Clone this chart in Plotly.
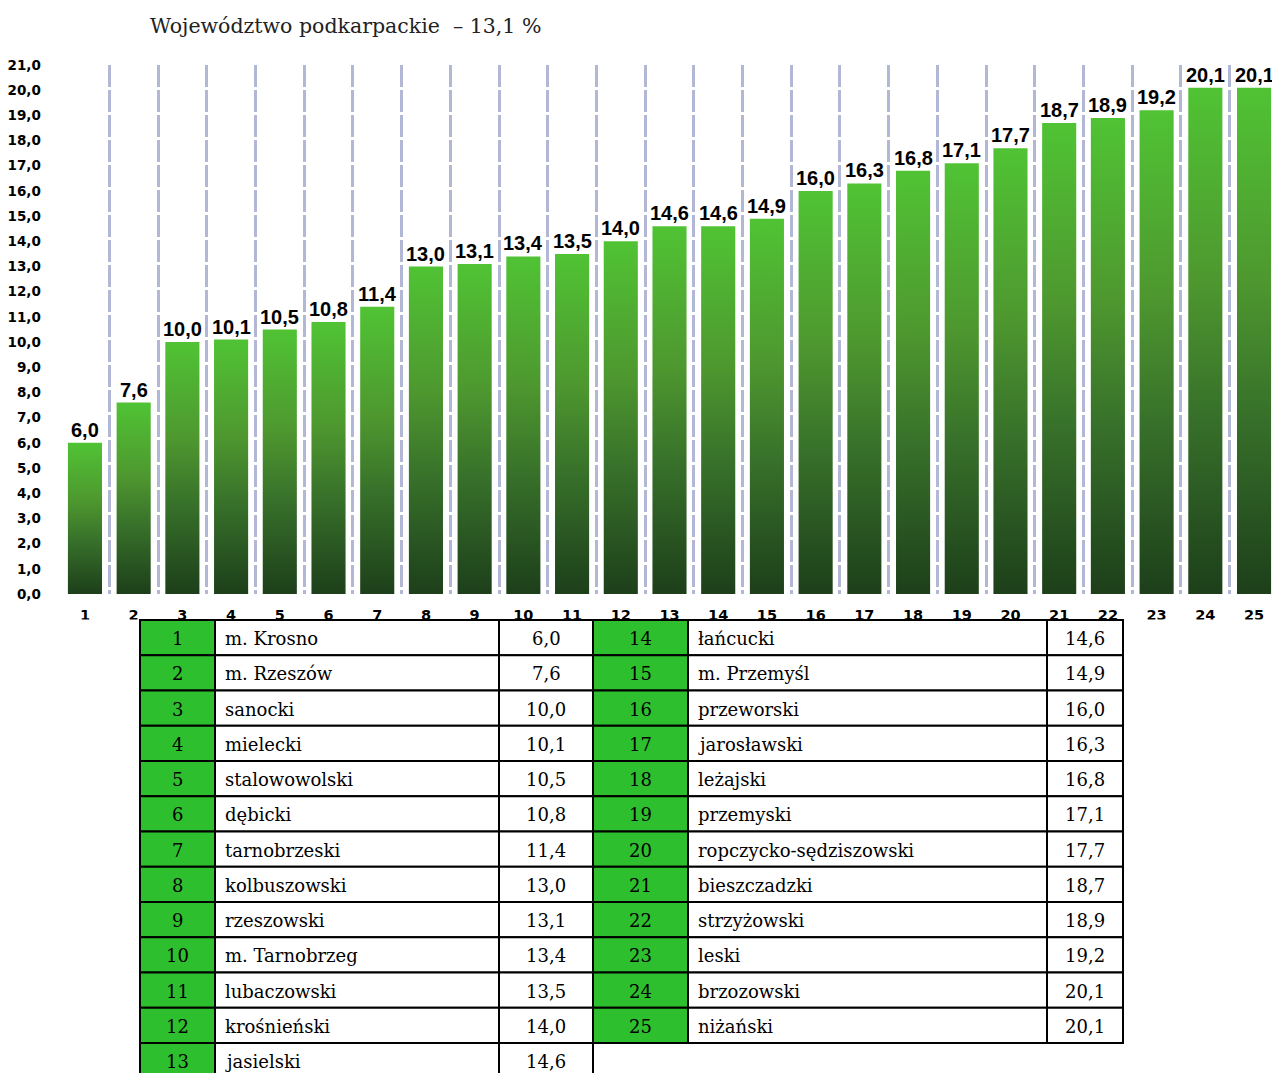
import plotly.graph_objects as go

# ---------------- data ----------------
categories = list(range(1, 26))
x_tick_labels = [str(c) for c in categories]
values = [6.0, 7.6, 10.0, 10.1, 10.5, 10.8, 11.4, 13.0, 13.1, 13.4, 13.5, 14.0, 14.6,
          14.6, 14.9, 16.0, 16.3, 16.8, 17.1, 17.7, 18.7, 18.9, 19.2, 20.1, 20.1]
names = ["m. Krosno", "m. Rzeszów", "sanocki", "mielecki", "stalowowolski", "dębicki",
         "tarnobrzeski", "kolbuszowski", "rzeszowski", "m. Tarnobrzeg", "lubaczowski",
         "krośnieński", "jasielski", "łańcucki", "m. Przemyśl", "przeworski",
         "jarosławski", "leżajski", "przemyski", "ropczycko-sędziszowski",
         "bieszczadzki", "strzyżowski", "leski", "brzozowski", "niżański"]
y_tick_values = list(range(0, 22))
y_tick_labels = [f"{v},0" for v in y_tick_values]
title_text = "Województwo podkarpackie  – 13,1 %"

# ---------------- styles ----------------
W, H = 1272, 1073
# vertical calibration of the photographed page (page y -> 8 + S * y)
TOP = 8.0
S = 1057.0 / 1073.0
grad = [[0, "#1D3F1A"], [0.35, "#37702A"], [0.62, "#4E982F"], [1, "#50C334"]]
GRID = "#B3B7D6"
TABLE_GREEN = "#2EBF2E"
SERIF = "DejaVu Serif"

def fmt(v):
    return f"{v:.1f}".replace(".", ",")

def px(x):
    return x / W

def py(y):
    fy = (y - TOP) / S
    return 1 - fy / H

fig = go.Figure()

bar_w = 0.70
for c, v in zip(categories, values):
    hw = bar_w / 2
    fig.add_trace(go.Scatter(
        x=[c - hw, c + hw, c + hw, c - hw, c - hw],
        y=[0, 0, v, v, 0],
        fill="toself",
        fillgradient=dict(type="vertical", colorscale=grad),
        mode="lines", line=dict(width=0),
        hoverinfo="skip", showlegend=False))

annotations = []
for c, v in zip(categories, values):
    annotations.append(dict(
        x=c, y=v, xref="x", yref="y", text=fmt(v), showarrow=False,
        yanchor="bottom", yshift=0,
        font=dict(family="Liberation Sans", size=20, color="black", weight="bold")))

annotations.append(dict(
    x=px(148), y=py(26), xref="paper", yref="paper", text=title_text,
    showarrow=False, xanchor="left", yanchor="middle",
    font=dict(family=SERIF, size=20.5, color="#222222")))

# ---------------- table (shapes + annotations) ----------------
shapes = []
# white band hiding the lower part of the x tick labels (chart image edge)
shapes.append(dict(type="rect", xref="paper", yref="paper", layer="above",
                   x0=0, x1=1, y0=py(1100), y1=py(619.5),
                   fillcolor="white", line=dict(width=0)))

row_top = 620
row_h = 35.25
col_sets = [[140, 215, 499, 593], [593, 688, 1047, 1123]]
left_n = 13
for idx, (num, name, v) in enumerate(zip(categories, names, values)):
    block = 0 if idx < left_n else 1
    r = idx if block == 0 else idx - left_n
    cols = col_sets[block]
    y0 = row_top + r * row_h
    y1 = y0 + row_h
    fills = [TABLE_GREEN, "white", "white"]
    for k in range(3):
        shapes.append(dict(type="rect", xref="paper", yref="paper", layer="above",
                           x0=px(cols[k]), x1=px(cols[k + 1]), y0=py(y1), y1=py(y0),
                           fillcolor=fills[k], line=dict(color="black", width=2)))
    yc = py((y0 + y1) / 2 + 1)
    tf = dict(family=SERIF, size=18, color="black")
    annotations.append(dict(x=px((cols[0] + cols[1]) / 2), y=yc, xref="paper", yref="paper",
                            text=str(num), showarrow=False, xanchor="center",
                            yanchor="middle", font=tf))
    annotations.append(dict(x=px(cols[1] + 8), y=yc, xref="paper", yref="paper",
                            text=name, showarrow=False, xanchor="left",
                            yanchor="middle", font=tf))
    annotations.append(dict(x=px((cols[2] + cols[3]) / 2), y=yc, xref="paper", yref="paper",
                            text=fmt(v), showarrow=False, xanchor="center",
                            yanchor="middle", font=tf))

x_left_px = 60.6
x_range = [0.5, 1 + (W - 85) / 48.71]

fig.update_layout(
    width=W, height=H,
    margin=dict(l=0, r=0, t=0, b=0),
    paper_bgcolor="white", plot_bgcolor="white",
    showlegend=False,
    shapes=shapes, annotations=annotations,
    xaxis=dict(
        domain=[px(x_left_px), 1], range=x_range,
        tickmode="array", tickvals=categories, ticktext=x_tick_labels,
        ticks="outside", ticklen=8, tickcolor="rgba(0,0,0,0)",
        tickfont=dict(family="DejaVu Sans", size=14.5, color="black", weight="bold"),
        showgrid=False, zeroline=False, showline=False,
        minor=dict(tickmode="array", tickvals=[c + 0.5 for c in categories[:-1]],
                   showgrid=True, gridcolor=GRID, gridwidth=3, griddash="22px,3px",
                   ticks=""),
        fixedrange=True),
    yaxis=dict(
        domain=[py(594), py(65)], range=[0, 21],
        tickmode="array", tickvals=y_tick_values, ticktext=y_tick_labels,
        ticks="outside", ticklen=16, tickcolor="rgba(0,0,0,0)",
        tickfont=dict(family="DejaVu Sans", size=13.5, color="black", weight="bold"),
        showgrid=False, zeroline=False, showline=False, fixedrange=True),
)

fig.write_html(
    "out.html",
    config={"displayModeBar": False},
    post_script=("document.documentElement.style.margin='0';"
                 "document.body.style.margin='0';"
                 "document.body.style.overflow='hidden';"),
)
